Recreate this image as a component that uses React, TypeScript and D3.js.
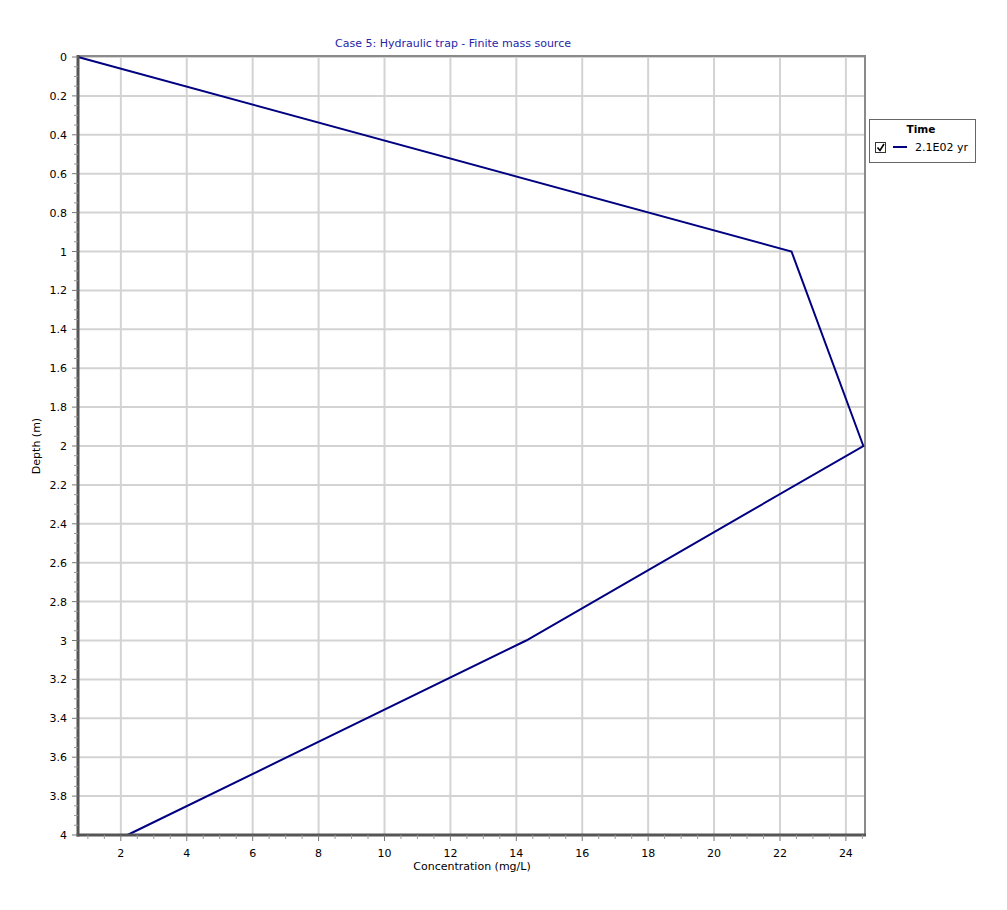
import React from "react";
import * as d3 from "d3";

const title = "Case 5: Hydraulic trap - Finite mass source";
const xLabel = "Concentration (mg/L)";
const yLabel = "Depth (m)";
const legendTitle = "Time";
const seriesName = "2.1E02 yr";
const depths = [0, 1, 2, 3, 4];
const concentrations = [0.7, 22.35, 24.53, 14.3, 2.2];
const xTicks = [2, 4, 6, 8, 10, 12, 14, 16, 18, 20, 22, 24];
const yTicks = [0, 0.2, 0.4, 0.6, 0.8, 1, 1.2, 1.4, 1.6, 1.8, 2, 2.2, 2.4, 2.6, 2.8, 3, 3.2, 3.4, 3.6, 3.8, 4];

const W = 1007, H = 910;
const left = 78, right = 865, top = 57, bottom = 835;
const font = "Verdana, 'DejaVu Sans', sans-serif";

export default function App() {
  const x = d3.scaleLinear().domain([0.7, 24.58]).range([left, right]);
  const y = d3.scaleLinear().domain([0, 4]).range([top, bottom]);
  const xMinor = d3.range(1, 24.6, 0.5).filter((v) => v >= 0.7 && v <= 24.58 && !xTicks.includes(v));
  const yMinor = d3.range(0, 4.001, 0.05).map((v) => +v.toFixed(2)).filter((v) => Math.abs(v * 5 - Math.round(v * 5)) > 1e-6);
  const line = d3.line<number>().x((d) => x(d)).y((_, i) => y(depths[i]));
  return (
    <svg width={W} height={H} style={{ position: "absolute", left: 0, top: 0, background: "#fff" }}>
      <rect width={W} height={H} fill="#fff" />
      <text x={453} y={47} textAnchor="middle" fontFamily={font} fontSize={11} fill="#2626a8">{title}</text>
      {xTicks.map((t) => (
        <line key={"gx" + t} x1={x(t)} x2={x(t)} y1={top} y2={bottom} stroke="#d3d3d3" strokeWidth={2} />
      ))}
      {yTicks.map((t) => (
        <line key={"gy" + t} x1={left} x2={right} y1={y(t)} y2={y(t)} stroke="#d3d3d3" strokeWidth={2} />
      ))}
      <line x1={left} x2={right} y1={top - 1} y2={top - 1} stroke="#8a8a8a" strokeWidth={2} />
      <line x1={right} x2={right} y1={top - 2} y2={bottom} stroke="#8a8a8a" strokeWidth={2} />
      <path d={line(concentrations) || ""} fill="none" stroke="#000080" strokeWidth={2} />
      <line x1={left} x2={left} y1={top - 2} y2={bottom + 1.5} stroke="#555" strokeWidth={3} />
      <line x1={left - 1.5} x2={right + 1} y1={bottom} y2={bottom} stroke="#555" strokeWidth={3} />
      {yTicks.map((t) => (
        <g key={"yt" + t}>
          <line x1={left - 6} x2={left} y1={y(t)} y2={y(t)} stroke="#777" strokeWidth={1} />
          <text x={left - 11} y={y(t) + 4} textAnchor="end" fontFamily={font} fontSize={11} fill="#000">{t}</text>
        </g>
      ))}
      {yMinor.map((t) => (
        <line key={"ym" + t} x1={left - 4} x2={left} y1={y(t)} y2={y(t)} stroke="#999" strokeWidth={1} />
      ))}
      {xTicks.map((t) => (
        <g key={"xt" + t}>
          <line x1={x(t)} x2={x(t)} y1={bottom} y2={bottom + 6} stroke="#777" strokeWidth={1} />
          <text x={x(t)} y={bottom + 22} textAnchor="middle" fontFamily={font} fontSize={11} fill="#000">{t}</text>
        </g>
      ))}
      {xMinor.map((t) => (
        <line key={"xm" + t} x1={x(t)} x2={x(t)} y1={bottom} y2={bottom + 4} stroke="#999" strokeWidth={1} />
      ))}
      <text x={472} y={870} textAnchor="middle" fontFamily={font} fontSize={11} fill="#000">{xLabel}</text>
      <text transform={`translate(40, ${(top + bottom) / 2}) rotate(-90)`} textAnchor="middle" fontFamily={font} fontSize={11} fill="#000">{yLabel}</text>
      <g>
        <rect x={869.5} y={119.5} width={106} height={43} fill="#fff" stroke="#666" strokeWidth={1} />
        <text x={921} y={133} textAnchor="middle" fontFamily={font} fontSize={10.5} fontWeight="bold" fill="#000">{legendTitle}</text>
        <rect x={875.5} y={142.5} width={10} height={10} fill="#fff" stroke="#333" strokeWidth={1} />
        <path d="M877.5 147.5 L880 150.5 L884 144" fill="none" stroke="#000" strokeWidth={1.6} />
        <line x1={893} x2={907} y1={147} y2={147} stroke="#000080" strokeWidth={2} />
        <text x={915} y={151} fontFamily={font} fontSize={11} fill="#000">{seriesName}</text>
      </g>
    </svg>
  );
}
